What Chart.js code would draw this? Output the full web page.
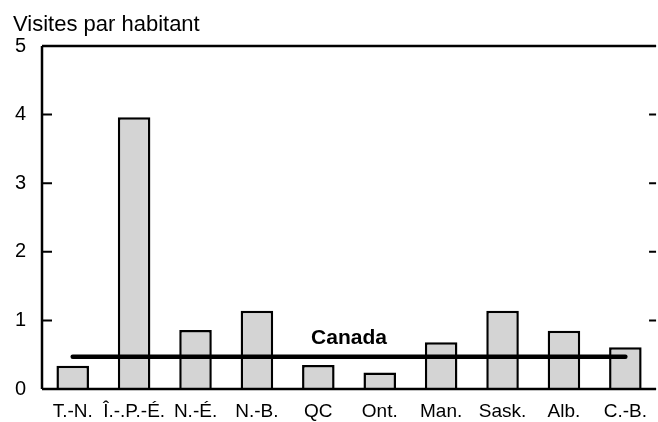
<!DOCTYPE html>
<html>
<head>
<meta charset="utf-8">
<script src="https://cdn.jsdelivr.net/npm/chart.js@4.4.1/dist/chart.umd.min.js"></script>
<style>
  html, body { margin: 0; padding: 0; background: #fff; overflow: hidden; }
  #wrap { width: 658px; height: 422px; }
</style>
</head>
<body>
<div id="wrap"><canvas id="visitsChart" width="658" height="422"></canvas></div>
<script>
// Data
const provinces = ['T.-N.', 'Î.-.P.-É.', 'N.-É.', 'N.-B.', 'QC', 'Ont.', 'Man.', 'Sask.', 'Alb.', 'C.-B.'];
const visitsPerCapita = [0.34, 3.96, 0.86, 1.14, 0.35, 0.24, 0.68, 1.14, 0.85, 0.61];
const canadaAverage = [0.47, 0.47, 0.47, 0.47, 0.47, 0.47, 0.47, 0.47, 0.47, 0.47];
const yTicks = [0, 1, 2, 3, 4, 5];
const yTitle = 'Visites par habitant';
const canadaLabel = 'Canada';

const FONT = '"Liberation Sans", Arial, Helvetica, sans-serif';

// Frame, inward ticks, axis title and the "Canada" label
const framePlugin = {
  id: 'frame',
  afterDatasetsDraw(chart) {
    const { ctx, chartArea: area, scales: { x, y } } = chart;
    ctx.save();
    ctx.strokeStyle = '#000';
    ctx.lineWidth = 2.5;
    ctx.lineCap = 'butt';

    // left axis, top and bottom lines
    ctx.beginPath();
    ctx.moveTo(area.left, area.top);
    ctx.lineTo(area.left, area.bottom);
    ctx.moveTo(area.left, area.top);
    ctx.lineTo(area.right, area.top);
    ctx.moveTo(area.left, area.bottom);
    ctx.lineTo(area.right, area.bottom);
    ctx.stroke();

    // inward tick marks on both sides
    ctx.lineWidth = 2;
    ctx.beginPath();
    yTicks.forEach(v => {
      const py = y.getPixelForValue(v);
      ctx.moveTo(area.left, py);
      ctx.lineTo(area.left + 10, py);
      ctx.moveTo(area.right - 7, py);
      ctx.lineTo(area.right, py);
    });
    ctx.stroke();

    // Canada label over the average line
    const cx = (x.getPixelForValue(4) + x.getPixelForValue(5)) / 2;
    const cy = y.getPixelForValue(canadaAverage[4]) - 13;
    ctx.fillStyle = '#000';
    ctx.font = 'bold 21px ' + FONT;
    ctx.textAlign = 'center';
    ctx.textBaseline = 'alphabetic';
    ctx.fillText(canadaLabel, cx, cy);

    // axis title in the top-left corner
    ctx.font = '22px ' + FONT;
    ctx.textAlign = 'left';
    ctx.fillText(yTitle, 13, 31);
    ctx.restore();
  }
};

new Chart(document.getElementById('visitsChart'), {
  data: {
    labels: provinces,
    datasets: [
      {
        type: 'line',
        label: 'Canada',
        data: canadaAverage,
        borderColor: '#000',
        borderWidth: 4.5,
        borderCapStyle: 'round',
        pointRadius: 0,
        fill: false,
        order: 0
      },
      {
        type: 'bar',
        label: 'Visites par habitant',
        data: visitsPerCapita,
        backgroundColor: '#d4d4d4',
        borderColor: '#000',
        borderWidth: 2.5,
        barPercentage: 0.53,
        categoryPercentage: 1,
        order: 1
      }
    ]
  },
  options: {
    responsive: false,
    animation: false,
    layout: { padding: { top: 46, right: 0, bottom: 0, left: 0 } },
    scales: {
      x: {
        afterFit: (scale) => { scale.height = 33; },
        grid: { display: false, drawTicks: false },
        border: { display: false },
        ticks: { color: '#000', font: { family: FONT, size: 19 }, padding: 11, maxRotation: 0, autoSkip: false }
      },
      y: {
        min: 0,
        max: 5,
        afterFit: (scale) => { scale.width = 42; },
        grid: { display: false, drawTicks: false },
        border: { display: false },
        ticks: { stepSize: 1, color: '#000', font: { family: FONT, size: 20 }, padding: 16 }
      }
    },
    plugins: {
      legend: { display: false },
      tooltip: { enabled: false }
    }
  },
  plugins: [framePlugin]
});
</script>
</body>
</html>
